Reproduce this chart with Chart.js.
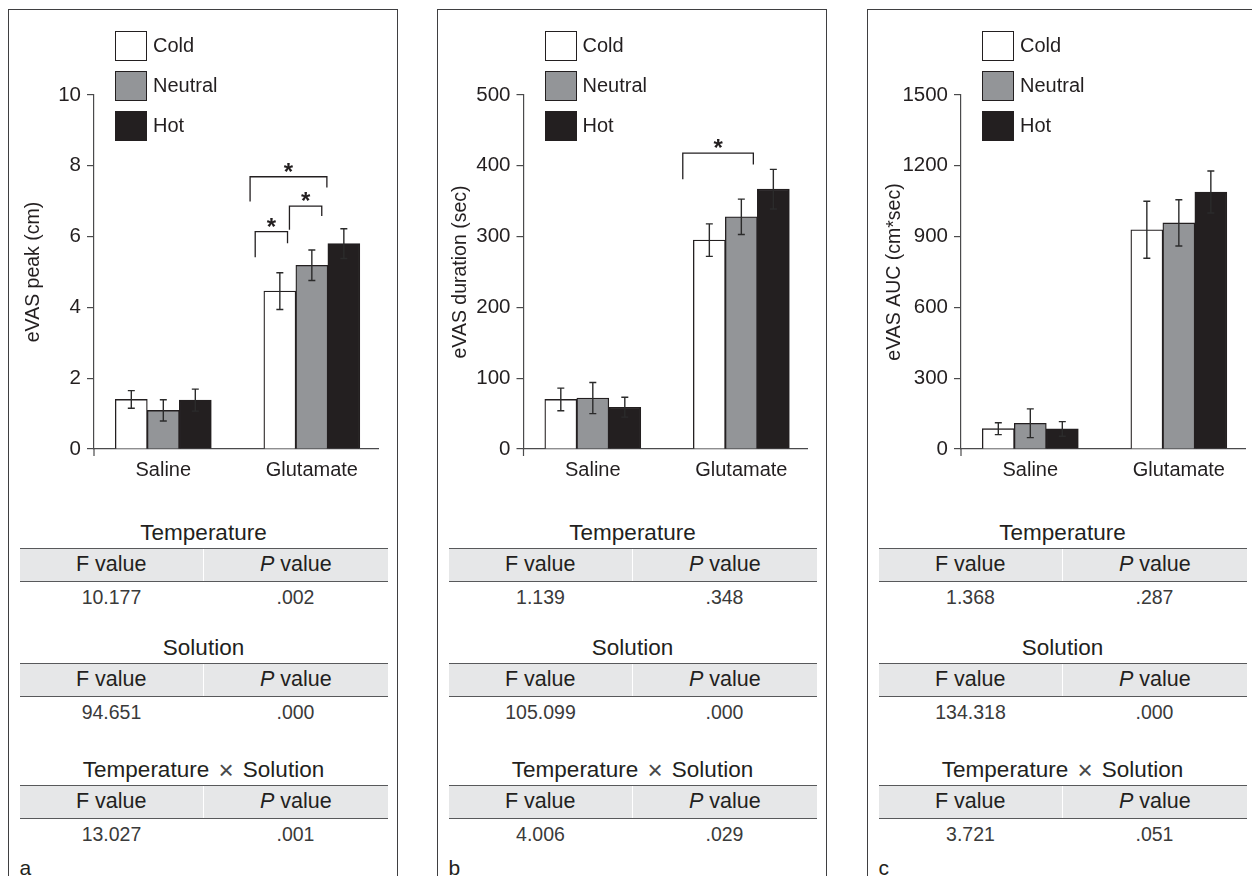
<!DOCTYPE html>
<html>
<head>
<meta charset="utf-8">
<script src="https://cdn.jsdelivr.net/npm/chart.js@4.4.1/dist/chart.umd.min.js"></script>
<style>
  html, body { margin: 0; padding: 0; background: #ffffff; width: 1252px; height: 876px; overflow: hidden;
    font-family: "Liberation Sans", Arial, Helvetica, sans-serif; color: #231f20; }
  .panel { position: absolute; top: 9px; width: 390px; height: 900px; box-sizing: border-box;
    border: 1.2px solid #3f3f41; border-bottom: none; }
  .lgbox { position: absolute; width: 32px; height: 30px; box-sizing: border-box; border: 1.3px solid #231f20; }
  .lgtxt { position: absolute; font-size: 20px; line-height: 30px; height: 30px; white-space: nowrap; }
  .ttitle { position: absolute; text-align: center; font-size: 22.5px; line-height: 26px; height: 26px; white-space: nowrap; }
  .ttitle .times { font-size: 26px; line-height: 0; margin: 0 3px; color: #4a4a4a; vertical-align: -2px; }
  .thead { position: absolute; height: 34px; box-sizing: border-box; background: #e6e7e8;
    border-top: 1.8px solid #58595b; border-bottom: 1.8px solid #58595b; display: flex; }
  .thead div { flex: 1; text-align: center; font-size: 21.5px; line-height: 30px; }
  .thead div + div { border-left: 1.5px solid #ffffff; }
  .trow { position: absolute; height: 26px; display: flex; }
  .trow div { flex: 1; text-align: center; font-size: 19.5px; line-height: 26px; color: #3a3a3a; }
  .plabel { position: absolute; font-size: 21px; line-height: 24px; }
</style>
</head>
<body>
<script>
// ---------- data ----------
const categories = ['Saline', 'Glutamate'];
const seriesNames = ['Cold', 'Neutral', 'Hot'];

// (a) eVAS peak (cm)
const peakCold = [1.40, 4.46];
const peakNeutral = [1.09, 5.19];
const peakHot = [1.38, 5.80];
const peakColdErr = [0.25, 0.52];
const peakNeutralErr = [0.30, 0.43];
const peakHotErr = [0.31, 0.42];
const peakTicks = [0, 2, 4, 6, 8, 10];

// (b) eVAS duration (sec)
const durCold = [70, 295];
const durNeutral = [72, 328];
const durHot = [59, 367];
const durColdErr = [16, 23];
const durNeutralErr = [22, 25];
const durHotErr = [14, 28];
const durTicks = [0, 100, 200, 300, 400, 500];

// (c) eVAS AUC (cm*sec)
const aucCold = [86, 929];
const aucNeutral = [109, 958];
const aucHot = [85, 1089];
const aucColdErr = [25, 121];
const aucNeutralErr = [61, 98];
const aucHotErr = [31, 89];
const aucTicks = [0, 300, 600, 900, 1200, 1500];

// ANOVA tables
const anovaTitles = ['Temperature', 'Solution', 'Temperature \u00D7 Solution'];
const peakF = ['10.177', '94.651', '13.027'];
const peakP = ['.002', '.000', '.001'];
const durF = ['1.139', '105.099', '4.006'];
const durP = ['.348', '.000', '.029'];
const aucF = ['1.368', '134.318', '3.721'];
const aucP = ['.287', '.000', '.051'];

// significance brackets (annotation geometry: x in bar widths from the Glutamate group centre, y in data units)
const bracketsA = [
  { x1: -1.77, x2: -0.76, y1: 5.42, top: 6.14, y2: 5.81 },
  { x1: -0.70, x2: 0.31, y1: 6.19, top: 6.86, y2: 6.58 },
  { x1: -1.93, x2: 0.47, y1: 6.99, top: 7.69, y2: 7.39 }
];
const bracketsB = [
  { x1: -1.83, x2: 0.375, y1: 381, top: 418, y2: 402 }
];
const bracketsC = [];

// ---------- styles / layout ----------
const seriesColors = ['#ffffff', '#939598', '#231f20'];
const inkColor = '#231f20';
const axisColor = '#4a4a4c';
const FONT = '"Liberation Sans", Arial, Helvetica, sans-serif';
Chart.defaults.font.family = FONT;
Chart.defaults.color = inkColor;

const panels = [
  { left: 8, axisX: 94, titleX: 34, label: 'a', yTitle: 'eVAS peak (cm)', ticks: peakTicks,
    values: [peakCold, peakNeutral, peakHot], errors: [peakColdErr, peakNeutralErr, peakHotErr],
    brackets: bracketsA, F: peakF, P: peakP },
  { left: 437, axisX: 523.5, titleX: 461, label: 'b', yTitle: 'eVAS duration (sec)', ticks: durTicks,
    values: [durCold, durNeutral, durHot], errors: [durColdErr, durNeutralErr, durHotErr],
    brackets: bracketsB, F: durF, P: durP },
  { left: 867, axisX: 961, titleX: 895, label: 'c', yTitle: 'eVAS AUC (cm*sec)', ticks: aucTicks,
    values: [aucCold, aucNeutral, aucHot], errors: [aucColdErr, aucNeutralErr, aucHotErr],
    brackets: bracketsC, F: aucF, P: aucP }
];
const AREA_TOP = 95, AREA_BOTTOM = 449, AXIS_LEN = 284;
const X_MIN = -0.4666, X_MAX = 1.4454;
const TABLE_TOPS = [547.5, 663, 785];

// ---------- plugins ----------
const errorBarPlugin = {
  id: 'errorBars',
  afterDatasetsDraw(chart) {
    const ctx = chart.ctx, ys = chart.scales.y;
    ctx.save();
    ctx.strokeStyle = '#2b2b2b';
    ctx.lineWidth = 1.4;
    chart.data.datasets.forEach((ds, di) => {
      const meta = chart.getDatasetMeta(di);
      meta.data.forEach((el, j) => {
        const v = ds.data[j].y, e = ds.errors[j];
        const yt = ys.getPixelForValue(v + e), yb = ys.getPixelForValue(v - e);
        const x = el.x, cap = 3.5;
        ctx.beginPath();
        ctx.moveTo(x, yt); ctx.lineTo(x, yb);
        ctx.moveTo(x - cap, yt); ctx.lineTo(x + cap, yt);
        ctx.moveTo(x - cap, yb); ctx.lineTo(x + cap, yb);
        ctx.stroke();
      });
    });
    ctx.restore();
  }
};

const bracketPlugin = {
  id: 'brackets',
  afterDraw(chart, args, opts) {
    const list = opts.items || [];
    const ctx = chart.ctx, ys = chart.scales.y;
    const first = chart.getDatasetMeta(0).data[1];
    const last = chart.getDatasetMeta(chart.data.datasets.length - 1).data[1];
    const centre = (first.x + last.x) / 2;
    const bw = first.width;
    ctx.save();
    ctx.strokeStyle = inkColor;
    ctx.fillStyle = inkColor;
    ctx.lineWidth = 1.3;
    list.forEach(b => {
      const xa = centre + b.x1 * bw, xb = centre + b.x2 * bw;
      const yt = ys.getPixelForValue(b.top);
      ctx.beginPath();
      ctx.moveTo(xa, ys.getPixelForValue(b.y1));
      ctx.lineTo(xa, yt);
      ctx.lineTo(xb, yt);
      ctx.lineTo(xb, ys.getPixelForValue(b.y2));
      ctx.stroke();
      ctx.font = 'bold 24px ' + FONT;
      ctx.textAlign = 'center';
      ctx.textBaseline = 'alphabetic';
      ctx.fillText('*', (xa + xb) / 2, yt + 3);
    });
    // small extension of the y axis below the x axis
    const ca = chart.chartArea;
    ctx.strokeStyle = axisColor;
    ctx.lineWidth = 1.2;
    ctx.beginPath();
    ctx.moveTo(ca.left, ca.bottom);
    ctx.lineTo(ca.left, ca.bottom + 7);
    ctx.stroke();
    ctx.restore();
  }
};

// ---------- build ----------
function el(cls, css, html) {
  const d = document.createElement('div');
  if (cls) d.className = cls;
  d.style.cssText = css;
  if (html !== undefined) d.innerHTML = html;
  document.body.appendChild(d);
  return d;
}

panels.forEach(p => {
  el('panel', `left:${p.left}px;`);

  const cLeft = p.left + 1, cTop = 11, cw = 388, ch = 480;
  const cv = document.createElement('canvas');
  cv.width = cw; cv.height = ch;
  cv.style.cssText = `position:absolute;left:${cLeft}px;top:${cTop}px;width:${cw}px;height:${ch}px;`;
  document.body.appendChild(cv);

  const titleSize = 19.5;
  const padLeft = p.titleX - titleSize * 1.2 / 2 - cLeft;
  const yWidth = p.axisX - cLeft - padLeft;
  const padRight = cLeft + cw - (p.axisX + AXIS_LEN);

  new Chart(cv, {
    type: 'bar',
    data: {
      datasets: seriesNames.map((name, si) => ({
        label: name,
        data: categories.map((c, ci) => ({ x: ci, y: p.values[si][ci] })),
        errors: p.errors[si],
        backgroundColor: seriesColors[si],
        borderColor: inkColor,
        borderWidth: 1.3,
        borderSkipped: 'start',
        barThickness: 32
      }))
    },
    options: {
      responsive: false,
      animation: false,
      devicePixelRatio: 1,
      layout: { padding: { left: padLeft, right: padRight, top: AREA_TOP - cTop, bottom: 0 } },
      plugins: {
        legend: { display: false },
        tooltip: { enabled: false },
        brackets: { items: p.brackets }
      },
      scales: {
        x: {
          type: 'linear',
          offset: false,
          bounds: 'data',
          min: X_MIN, max: X_MAX,
          grid: { display: false, drawTicks: false, offset: false },
          border: { display: true, color: axisColor, width: 1.2 },
          afterDataLimits: s => { s.min = X_MIN; s.max = X_MAX; },
          afterBuildTicks: s => {
            s.ticks = categories.map((c, i) => ({ value: i }));
            s.min = X_MIN; s.max = X_MAX;
          },
          ticks: {
            autoSkip: false, maxRotation: 0, padding: 9,
            font: { size: 20 }, color: inkColor,
            callback: v => categories[Math.round(v)]
          },
          afterFit: s => { s.height = cTop + ch - AREA_BOTTOM; }
        },
        y: {
          min: p.ticks[0], max: p.ticks[p.ticks.length - 1],
          afterBuildTicks: s => { s.ticks = p.ticks.map(v => ({ value: v })); },
          grid: { drawOnChartArea: false, drawTicks: true, tickLength: 7, color: axisColor, lineWidth: 1.2 },
          border: { display: true, color: axisColor, width: 1.2 },
          ticks: { padding: 6, font: { size: 20.5 }, color: inkColor, callback: v => String(v) },
          title: { display: true, text: p.yTitle, font: { size: titleSize }, color: inkColor, padding: 0 },
          afterFit: s => { s.width = yWidth; }
        }
      }
    },
    plugins: [errorBarPlugin, bracketPlugin]
  });

  // legend
  const boxLeft = p.axisX + 21;
  const boxTops = [31, 71, 111];
  seriesNames.forEach((name, si) => {
    el('lgbox', `left:${boxLeft}px;top:${boxTops[si]}px;background:${seriesColors[si]};`);
    el('lgtxt', `left:${boxLeft + 38}px;top:${boxTops[si] - 1}px;`, name);
  });

  // ANOVA tables
  const tLeft = p.left + 11.5, tWidth = 368;
  anovaTitles.forEach((t, ti) => {
    const top = TABLE_TOPS[ti];
    el('ttitle', `left:${tLeft}px;width:${tWidth}px;top:${top - 28}px;`,
      t.replace('\u00D7', '<span class="times">\u00D7</span>'));
    el('thead', `left:${tLeft}px;width:${tWidth}px;top:${top}px;`,
      '<div>F value</div><div><i>P</i> value</div>');
    el('trow', `left:${tLeft}px;width:${tWidth}px;top:${top + 36}px;`,
      `<div>${p.F[ti]}</div><div>${p.P[ti]}</div>`);
  });
  el('plabel', `left:${tLeft}px;top:856px;`, p.label);
});
</script>
</body>
</html>
